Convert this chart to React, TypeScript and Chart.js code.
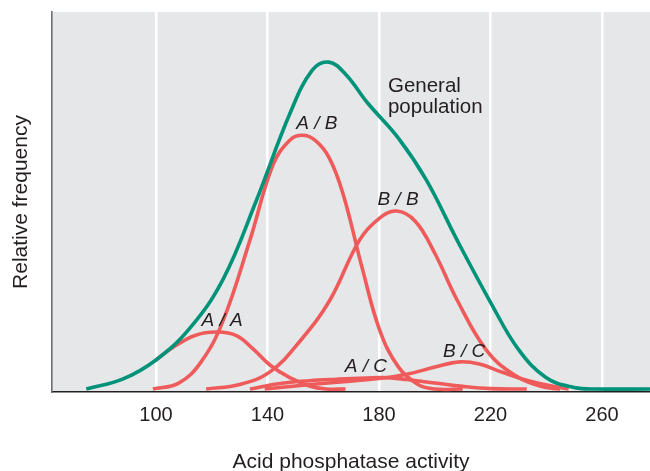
import React, { useEffect, useRef } from "react";
import { Chart, registerables } from "chart.js";

Chart.register(...registerables);

// X ticks
const X_TICKS = [100, 140, 180, 220, 260];

// General population
const genX = [75, 88, 100, 112, 124, 136, 148, 156, 162, 168, 176, 187, 197, 208, 220, 230, 240, 250, 258, 277.2];
const genY = [0, 2.6, 7.7, 16, 29, 50, 73, 84.5, 86.7, 83.5, 75.8, 66.5, 55.4, 39.5, 23, 10.5, 3, 0.4, 0, 0];

// A/A
const aaX = [100, 106, 114, 122, 129, 135, 141, 148, 155, 161, 168];
const aaY = [7.7, 11, 14.2, 15.1, 14.1, 10.5, 6.3, 3, 0.8, 0, 0];

// A/B
const abX = [98.9, 108, 116, 124, 133.7, 142, 148, 152.5, 157, 162, 167, 174, 180.3, 187, 194, 200, 210];
const abY = [0, 1.5, 7, 18, 39.5, 59.5, 66, 67.3, 66, 61.5, 52, 32, 15.5, 5.8, 1.2, 0, 0];

// B/B
const bbX = [118, 130, 141, 152, 162.4, 173, 180, 186.3, 193, 200, 208, 218.5, 228, 238, 245];
const bbY = [0, 1.2, 4.6, 13, 23.6, 39.5, 45.2, 47.2, 44.5, 36, 23.6, 10.3, 4, 0.7, 0];

// A/C
const acX = [133.7, 144, 155, 165, 175, 183, 190, 200, 210, 220, 233];
const acY = [0, 1.4, 2.2, 2.6, 2.9, 3.0, 2.5, 1.6, 0.7, 0.1, 0];

// B/C
const bcX = [139, 150, 165, 180, 190, 200, 209, 216, 224, 235, 245, 248];
const bcY = [0, 0.8, 1.8, 2.8, 3.9, 5.8, 7.2, 6.6, 4.5, 1.9, 0.4, 0];

const GREEN = "#00937a";
const RED = "#ef5b5b";
const TEXT = "#231f20";
const FONT = "'Liberation Sans', Arial, Helvetica, sans-serif";

const zip = (xs: number[], ys: number[]) => xs.map((x, i) => ({ x, y: ys[i] }));

const LABELS = [
  { text: "A / B", x: 157.7, y: 68.9 },
  { text: "B / B", x: 186.8, y: 48.8 },
  { text: "A / A", x: 123.7, y: 16.7 },
  { text: "A / C", x: 175.3, y: 4.6 },
  { text: "B / C", x: 210.5, y: 8.6 },
];

export default function App() {
  const ref = useRef<HTMLCanvasElement | null>(null);
  useEffect(() => {
    if (!ref.current) return;
    const bgPlugin = {
      id: "bg",
      beforeDraw(chart: any) {
        const { ctx, chartArea: a } = chart;
        ctx.save();
        ctx.fillStyle = "#e6e7e8";
        ctx.fillRect(a.left, a.top, a.right - a.left, a.bottom - a.top);
        ctx.restore();
      },
      afterDraw(chart: any) {
        const { ctx, chartArea: a, scales } = chart;
        const xs = scales.x;
        const ys = scales.y;
        ctx.save();
        ctx.fillStyle = TEXT;
        ctx.font = `21px ${FONT}`;
        ctx.textAlign = "center";
        ctx.textBaseline = "alphabetic";
        ctx.fillText("Acid phosphatase activity", (a.left + a.right) / 2, 468);
        ctx.save();
        ctx.translate(27, (a.top + a.bottom) / 2);
        ctx.rotate(-Math.PI / 2);
        ctx.fillText("Relative frequency", 0, 0);
        ctx.restore();
        ctx.font = `20.5px ${FONT}`;
        ctx.textAlign = "left";
        const gx = xs.getPixelForValue(183.2);
        ctx.fillText("General", gx, ys.getPixelForValue(78.9));
        ctx.fillText("population", gx, ys.getPixelForValue(73.2));
        ctx.font = `italic 19px ${FONT}`;
        ctx.textAlign = "center";
        for (const l of LABELS) {
          ctx.fillText(l.text, xs.getPixelForValue(l.x), ys.getPixelForValue(l.y));
        }
        ctx.restore();
      },
    };
    const mk = (label: string, xs: number[], ys: number[], color: string) => ({
      label,
      data: zip(xs, ys),
      borderColor: color,
      borderWidth: 3.6,
      pointRadius: 0,
      fill: false,
      tension: 0.4,
      clip: false as any,
    });
    const chart = new Chart(ref.current, {
      type: "line",
      data: {
        datasets: [
          mk("General population", genX, genY, GREEN),
          mk("A/A", aaX, aaY, RED),
          mk("A/B", abX, abY, RED),
          mk("B/B", bbX, bbY, RED),
          mk("A/C", acX, acY, RED),
          mk("B/C", bcX, bcY, RED),
        ],
      },
      options: {
        animation: false,
        responsive: false,
        devicePixelRatio: 1,
        layout: { padding: { top: 12, left: 0, right: 0, bottom: 0 } },
        plugins: { legend: { display: false }, tooltip: { enabled: false } },
        scales: {
          x: {
            type: "linear",
            min: 62.7,
            max: 277.2,
            afterBuildTicks: (s: any) => {
              s.ticks = X_TICKS.map((v) => ({ value: v }));
            },
            afterFit: (s: any) => {
              s.height = 79;
            },
            grid: { color: "#ffffff", lineWidth: 2.6, drawTicks: false },
            border: { display: true, color: TEXT, width: 1.6 },
            ticks: { color: TEXT, font: { family: FONT, size: 20 }, padding: 11, maxRotation: 0, autoSkip: false },
          },
          y: {
            type: "linear",
            min: -0.8,
            max: 100,
            afterFit: (s: any) => {
              s.width = 52;
            },
            grid: { display: false, drawTicks: false },
            border: { display: true, color: "#6d6e71", width: 1.6 },
            ticks: { display: false },
          },
        },
      },
      plugins: [bgPlugin],
    });
    return () => chart.destroy();
  }, []);
  return (
    <div style={{ position: "absolute", left: 0, top: 0, width: 650, height: 471, background: "#fff" }}>
      <canvas ref={ref} width={650} height={471} style={{ display: "block" }} />
    </div>
  );
}
